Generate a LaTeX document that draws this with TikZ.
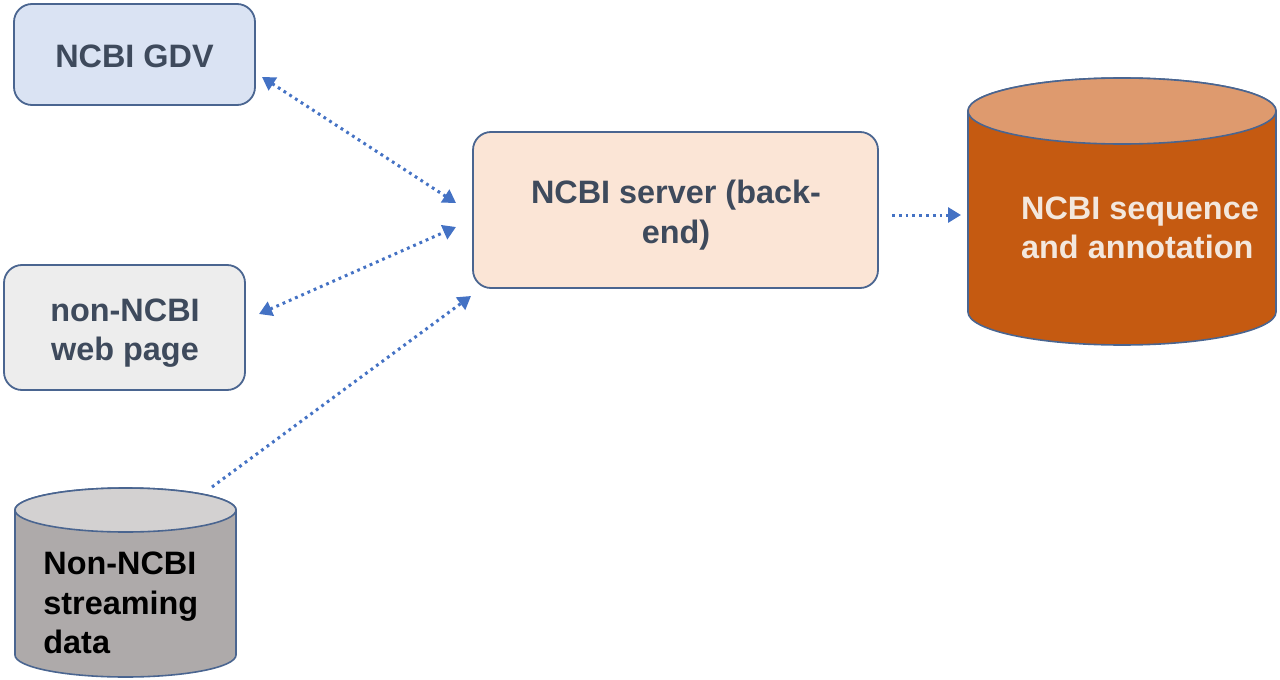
\documentclass[tikz,border=0pt]{standalone}
\usepackage{fontspec}
\setmainfont{Liberation Sans}
\usetikzlibrary{arrows.meta}
\definecolor{bordc}{HTML}{4A6590}
\definecolor{txtc}{HTML}{3E4A5C}
\definecolor{gdvfill}{HTML}{DAE3F3}
\definecolor{webfill}{HTML}{EDEDED}
\definecolor{srvfill}{HTML}{FBE5D6}
\definecolor{seqbody}{HTML}{C55A11}
\definecolor{seqtop}{HTML}{DE9A6E}
\definecolor{seqtxt}{HTML}{F3E7DD}
\definecolor{grbody}{HTML}{AEAAAA}
\definecolor{grtop}{HTML}{D3D1D1}
\definecolor{arrc}{HTML}{4472C4}
\tikzset{
  box/.style={draw=bordc, line width=0.9pt, rounded corners=9pt, inner sep=0pt},
  lbl/.style={font=\fontsize{16.2}{19.8}\selectfont\bfseries, text=txtc, align=center, inner sep=0pt},
  cyl/.style={draw=bordc, line width=0.8pt},
  conn/.style={draw=arrc, line width=1.5pt, dash pattern=on 1.4pt off 2pt},
  tip/.style={-{Triangle[length=6.5pt,width=7.5pt]}},
  dtip/.style={{Triangle[length=6.5pt,width=7.5pt]}-{Triangle[length=6.5pt,width=7.5pt]}},
}
\begin{document}
\begin{tikzpicture}[x=0.5pt,y=-0.5pt]
\useasboundingbox (0,0) rectangle (1280,680);
% boxes
\node[box, fill=gdvfill, minimum width=120.5pt, minimum height=50.5pt] (gdv) at (134.5,54.5) {};
\node[lbl] (gdvtext) at (134.5,56) {NCBI GDV};
\node[box, fill=webfill, minimum width=120.5pt, minimum height=62.5pt] (web) at (124.5,327.5) {};
\node[lbl] (webtext) at (125,333) {non-NCBI\\web page};
\node[box, fill=srvfill, minimum width=202.5pt, minimum height=78pt] (srv) at (675.5,210) {};
\node[lbl] (srvtext) at (676,215) {NCBI server (back-\\end)};
% sequence cylinder
\path[cyl, fill=seqbody] (968,111) -- (968,312) arc[start angle=180, end angle=360, x radius=154, y radius=-33] -- (1276,111) arc[start angle=0, end angle=180, x radius=154, y radius=-33] -- cycle;
\path[cyl, fill=seqtop] (1122,111) ellipse[x radius=154, y radius=-33];
\node[inner sep=0pt, minimum width=154pt, minimum height=134pt] (seq) at (1122,211) {};
\node[lbl, text=seqtxt, align=left] (seqtext) at (1140,228) {NCBI sequence\\and annotation};
% streaming cylinder
\path[cyl, fill=grbody] (15,510) -- (15,655) arc[start angle=180, end angle=360, x radius=110.5, y radius=-22] -- (236,510) arc[start angle=0, end angle=180, x radius=110.5, y radius=-22] -- cycle;
\path[cyl, fill=grtop] (125.5,510) ellipse[x radius=110.5, y radius=-22];
\node[inner sep=0pt, minimum width=110.5pt, minimum height=94.5pt] (str) at (125.5,582) {};
\node[lbl, text=black, align=left, anchor=west] (strtext) at (43,603) {Non-NCBI\\streaming\\data};
% connector end points
\coordinate (gA) at (262,77);
\coordinate (sA) at (456,203);
\coordinate (wA) at (259,314);
\coordinate (sB) at (456,227);
\coordinate (dA) at (212,487);
\coordinate (sC) at (471,296);
\coordinate (sD) at (892,215);
\coordinate (qA) at (961,215);
\draw[conn, dtip] (gA) -- (sA);
\draw[conn, dtip] (wA) -- (sB);
\draw[conn, tip] (dA) -- (sC);
\draw[conn, tip] (sD) -- (qA);
\end{tikzpicture}
\end{document}
